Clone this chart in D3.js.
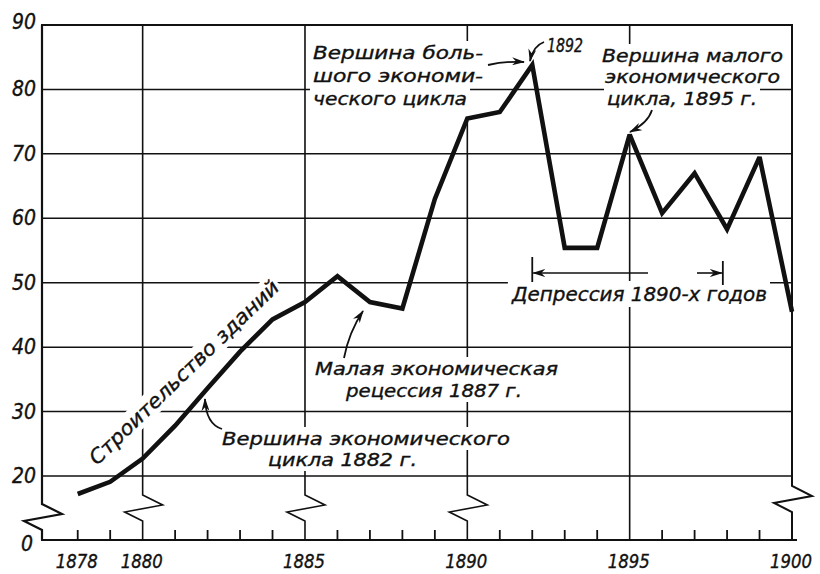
<!DOCTYPE html>
<html><head><meta charset="utf-8">
<script src="https://cdn.jsdelivr.net/npm/d3@7"></script>
<style>
body{margin:0;background:#fff}
svg text{font-family:"Liberation Sans Narrow","DejaVu Sans Condensed","Liberation Sans",sans-serif;font-style:italic;fill:#111;stroke:#111;stroke-width:0.35}
</style></head><body>
<svg id="c" width="820" height="574"></svg>
<script>
// ---- data ----
const years  = [1878,1879,1880,1881,1882,1883,1884,1885,1886,1887,1888,1889,1890,1891,1892,1893,1894,1895,1896,1897,1898,1899,1900];
const values = [17.2,19.1,22.7,27.8,33.6,39.3,44.3,47.0,51.0,47.0,46.0,63.0,75.5,76.5,83.8,55.4,55.4,73.0,60.8,67.0,58.3,69.5,45.5];
const yTickValues = [0,20,30,40,50,60,70,80,90];
const yGridValues = [20,30,40,50,60,70,80];
const xLabelYears = [1878,1880,1885,1890,1895,1900];
const xGridYears  = [1880,1885,1890,1895,1900];
const xBreakYears = [1880,1885,1890,1900];
const minorTickYears = [1878,1879,1881,1882,1883,1884,1886,1887,1888,1889,1891,1892,1893,1894,1896,1897,1898,1899];
const xStart = 1876.9;

// ---- layout ----
const svg = d3.select("#c");
const L = 42, R = 792, T = 25, B = 540;
const x = d3.scaleLinear().domain([xStart, 1900]).range([L, R]);
// broken value axis: linear from 15 to 90, compressed between 0 and 15
const y = d3.scaleLinear().domain([0, 15, 90]).range([B, 508.2, T]);

svg.append("defs").append("marker")
  .attr("id","ah").attr("markerUnits","userSpaceOnUse")
  .attr("markerWidth",14).attr("markerHeight",8).attr("refX",12).attr("refY",4)
  .attr("orient","auto")
  .append("path").attr("d","M0,0 L13,4 L0,8 L4,4 Z").attr("fill","#111");

const gGrid = svg.append("g");
const gMask = svg.append("g");
const gLine = svg.append("g");
const gText = svg.append("g");

// horizontal grid
gGrid.selectAll("line.h").data(yGridValues).join("line")
  .attr("x1",L).attr("x2",R).attr("y1",d=>y(d)).attr("y2",d=>y(d))
  .attr("stroke","#111").attr("stroke-width",1.5);
gGrid.append("line").attr("x1",L-1).attr("x2",R+1).attr("y1",y(90)).attr("y2",y(90))
  .attr("stroke","#111").attr("stroke-width",2);
gGrid.append("line").attr("x1",L-1).attr("x2",R+5).attr("y1",y(0)).attr("y2",y(0))
  .attr("stroke","#111").attr("stroke-width",2.2);

// vertical lines with break marks
function vpath(xx, brk, y0){
  if(!brk) return `M${xx},${T} V${B}`;
  return `M${xx},${T} V${y0} L${xx+20},${y0+10} L${xx-18},${y0+17} L${xx},${y0+26} V${B}`;
}
gGrid.append("path").attr("d",vpath(x(xStart),true,504)).attr("fill","none").attr("stroke","#111").attr("stroke-width",2.2);
gGrid.selectAll("path.v").data(xGridYears).join("path")
  .attr("d",d=>vpath(x(d), xBreakYears.includes(d), d===1900?486:495))
  .attr("fill","none").attr("stroke","#111").attr("stroke-width",d=>d===1900?2:1.6);

// minor ticks
gGrid.selectAll("line.t").data(minorTickYears).join("line")
  .attr("x1",d=>x(d)).attr("x2",d=>x(d)).attr("y1",B).attr("y2",B-10)
  .attr("stroke","#111").attr("stroke-width",1.8);

// tick labels
gText.selectAll("text.yl").data(yTickValues).join("text")
  .attr("x",d=>d===0?33:36).attr("y",d=>y(d)+(d===0?11:(d===90?4:7))).attr("text-anchor","end")
  .attr("font-size",21).text(d=>d);
gText.selectAll("text.xl").data(xLabelYears).join("text")
  .attr("x",d=>x(d)-1).attr("y",568).attr("text-anchor","middle")
  .attr("font-size",20).attr("textLength",42).attr("lengthAdjust","spacingAndGlyphs").text(d=>d);

// annotations
function label(lines, fs){
  lines.forEach(([t,xx,yy,len])=>{
    const el = gText.append("text").attr("x",xx).attr("y",yy).attr("font-size",fs)
      .attr("textLength",len).attr("lengthAdjust","spacingAndGlyphs").text(t);
    const bb = el.node().getBBox();
    gMask.append("rect").attr("x",bb.x-3).attr("y",bb.y-1).attr("width",bb.width+6).attr("height",bb.height+2).attr("fill","#fff");
  });
}
label([["Вершина боль-",313,59,170],["шого экономи-",313,82,170],["ческого цикла",313,105,154]], 18.5);
label([["1892",547,52,36]], 19);
label([["Вершина малого",602,62,181],["экономического",605,83,175],["цикла, 1895 г.",607,105,150]], 18.5);
label([["Малая экономическая",315,375,243],["рецессия 1887 г.",346,397,176]], 18.5);
label([["Вершина экономического",222,445,288],["цикла 1882 г.",268,466,149]], 18.5);
label([["Депрессия 1890-х годов",512,301,255]], 20);

// rotated label
{
  const tr = "translate(97,466) rotate(-44)";
  const g = gText.append("g").attr("transform",tr);
  const el = g.append("text").attr("x",0).attr("y",0).attr("font-size",20)
    .attr("textLength",255).attr("lengthAdjust","spacingAndGlyphs").text("Строительство зданий");
  const bb = el.node().getBBox();
  gMask.append("rect").attr("transform",tr)
    .attr("x",bb.x-2).attr("y",bb.y).attr("width",bb.width+4).attr("height",bb.height).attr("fill","#fff");
}
// extra masks for gaps around arrows at grid verticals
gMask.append("rect").attr("x",x(1895)-4).attr("y",105).attr("width",8).attr("height",30).attr("fill","#fff");
gMask.append("rect").attr("x",x(1890)-4).attr("y",105).attr("width",8).attr("height",12).attr("fill","#fff");

// data line
const line = d3.line().x((d,i)=>x(years[i])).y(d=>y(d));
gLine.append("path").datum(values).attr("d",line)
  .attr("fill","none").attr("stroke","#111").attr("stroke-width",4.6)
  .attr("stroke-linejoin","miter").attr("stroke-miterlimit",3);

// arrows
function arrow(d, sw){
  gLine.append("path").attr("d",d).attr("fill","none").attr("stroke","#111")
    .attr("stroke-width",sw||1.8).attr("marker-end","url(#ah)");
}
arrow("M488,65 Q505,61 524,62");
arrow("M544,42 Q533,46 530,61");
arrow("M652,110 Q648,123 630,132");
arrow("M344,358 Q349,332 363,311");
arrow("M222,429 Q206,424 205,399");
// depression range
const yr = 273;
gLine.append("line").attr("x1",x(1892)).attr("x2",x(1892)).attr("y1",257).attr("y2",282).attr("stroke","#111").attr("stroke-width",1.8);
gLine.append("line").attr("x1",x(1897.87)).attr("x2",x(1897.87)).attr("y1",261).attr("y2",285).attr("stroke","#111").attr("stroke-width",1.8);
arrow(`M648,${yr} L${x(1892)+1},${yr}`,1.6);
arrow(`M697,${yr} L${x(1897.87)-1},${yr}`,1.6);
</script>
</body></html>
